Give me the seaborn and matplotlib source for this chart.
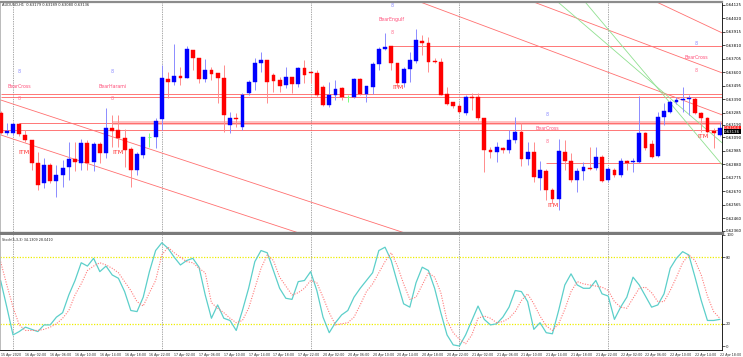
import numpy as np
import pandas as pd
import matplotlib
matplotlib.use("Agg")
import matplotlib.pyplot as plt
import seaborn as sns

# AUDUSD H1 candles, 15 Apr 22:00 -> 22 Apr 18:00 (prices x 1e5)
opens = [63281, 63125, 63125, 63196, 63110, 63071, 62891, 62735, 62875, 62750,
         62797, 62860, 62922, 62891, 63047, 62899, 63039, 62969, 63164, 63149,
         63086, 63000, 62836, 62953, 63094, 63094, 63235, 63547, 63524, 63570,
         63555, 63773, 63711, 63547, 63617, 63594, 63555, 63188, 63242, 63172,
         63438, 63524, 63672, 63695, 63578, 63539, 63500, 63563, 63508, 63633,
         63602, 63594, 63485, 63344, 63422, 63477, 63406, 63406, 63547, 63430,
         63485, 63664, 63781, 63805, 63672, 63516, 63625, 63688, 63844, 63828,
         63688, 63680, 63430, 63367, 63336, 63281, 63406, 63406, 63242, 62992,
         62977, 63008, 62992, 63071, 63133, 62922, 62977, 62774, 62828, 62680,
         62610, 62977, 62907, 62758, 62828, 62852, 62852, 62938, 62758, 62836,
         62797, 62907, 62899, 62899, 63125, 63039, 62946, 63250, 63289, 63367,
         63383, 63391, 63391, 63281, 63242, 63141, 63110]
highs = [63297, 63203, 63203, 63203, 63149, 63071, 62977, 62930, 62891, 62875,
         62914, 63055, 63055, 63078, 63071, 63055, 63055, 63321, 63266, 63266,
         63157, 63016, 62977, 63094, 63125, 63242, 63656, 63602, 63820, 63641,
         63805, 63773, 63711, 63703, 63641, 63594, 63656, 63289, 63281, 63438,
         63539, 63711, 63758, 63695, 63594, 63563, 63641, 63563, 63641, 63695,
         63602, 63617, 63500, 63524, 63539, 63485, 63422, 63555, 63555, 63492,
         63680, 63797, 63906, 63805, 63672, 63641, 63758, 63938, 63891, 63875,
         63711, 63711, 63485, 63367, 63360, 63422, 63438, 63438, 63242, 63016,
         63055, 63016, 63149, 63250, 63203, 63055, 63055, 62907, 62844, 62696,
         63078, 63071, 62969, 62852, 62899, 63016, 63016, 62953, 62860, 62852,
         62930, 62914, 62930, 63414, 63133, 63071, 63289, 63360, 63383, 63406,
         63485, 63422, 63406, 63289, 63250, 63164, 63211]
lows = [63117, 63110, 63110, 63102, 63055, 62836, 62680, 62696, 62735, 62625,
        62704, 62758, 62828, 62836, 62836, 62828, 62891, 62930, 63016, 63016,
        62860, 62704, 62797, 62930, 63016, 63008, 63149, 63399, 63500, 63500,
        63555, 63617, 63516, 63524, 63539, 63360, 63133, 63125, 63172, 63149,
        63422, 63461, 63602, 63360, 63445, 63445, 63477, 63438, 63485, 63516,
        63516, 63406, 63336, 63328, 63383, 63383, 63367, 63399, 63422, 63367,
        63430, 63617, 63773, 63617, 63485, 63485, 63524, 63672, 63734, 63602,
        63672, 63422, 63344, 63321, 63281, 63266, 63305, 63227, 62821, 62930,
        62899, 62969, 62969, 63047, 62868, 62875, 62743, 62680, 62602, 62579,
        62524, 62836, 62743, 62664, 62758, 62836, 62836, 62743, 62743, 62782,
        62782, 62836, 62821, 62891, 62992, 62930, 62938, 63188, 63281, 63352,
        63289, 63266, 63274, 63133, 63125, 63008, 63102]
closes = [63125, 63141, 63196, 63117, 63071, 62891, 62719, 62875, 62750, 62797,
          62852, 62922, 62899, 63047, 62891, 63039, 62969, 63164, 63141, 63086,
          62992, 62836, 62961, 63094, 63094, 63219, 63555, 63524, 63570, 63555,
          63781, 63711, 63547, 63617, 63586, 63555, 63266, 63242, 63235, 63422,
          63524, 63672, 63695, 63524, 63531, 63492, 63563, 63508, 63633, 63578,
          63594, 63422, 63344, 63422, 63469, 63406, 63406, 63547, 63430, 63492,
          63664, 63781, 63797, 63672, 63516, 63625, 63695, 63852, 63828, 63680,
          63680, 63422, 63352, 63336, 63289, 63406, 63399, 63242, 62992, 62977,
          63016, 62992, 63071, 63133, 62922, 62977, 62782, 62836, 62680, 62610,
          62985, 62907, 62758, 62828, 62860, 62844, 62938, 62750, 62844, 62797,
          62907, 62891, 62907, 63125, 63008, 62938, 63250, 63297, 63367, 63383,
          63391, 63399, 63281, 63242, 63133, 63125, 63164]

# Stochastic(5,3,3): main and signal
stoch_main = [59, 35, 10, 13, 17, 15, 13, 19, 19, 26, 30, 46, 59, 75, 72, 79, 67, 72, 64, 61,
              49, 32, 31, 44, 67, 86, 93, 88, 80, 73, 77, 79, 71, 46, 25, 37, 25, 23, 14, 32,
              52, 76, 86, 84, 68, 52, 43, 42, 58, 59, 67, 50, 26, 12, 21, 28, 32, 44, 52, 59,
              66, 86, 89, 77, 57, 38, 35, 57, 71, 68, 52, 30, 10, 1, 0, 10, 23, 36, 24, 19,
              20, 26, 35, 50, 49, 40, 15, 21, 12, 11, 32, 55, 65, 55, 52, 52, 59, 47, 45, 24,
              35, 44, 62, 55, 45, 35, 37, 47, 70, 79, 85, 82, 62, 41, 23, 23, 24]
stoch_signal = [76, 55, 35, 19, 14, 14, 14, 15, 17, 20, 25, 32, 46, 56, 68, 72, 75, 73, 70, 66,
                58, 50, 40, 36, 48, 59, 82, 89, 84, 80, 76, 75, 70, 66, 39, 34, 30, 25, 21, 23,
                34, 52, 70, 82, 77, 62, 54, 46, 48, 52, 59, 57, 44, 30, 19, 20, 21, 26, 37, 49,
                56, 66, 76, 84, 72, 56, 42, 44, 55, 66, 62, 48, 23, 12, 6, 2, 10, 25, 27, 25,
                21, 22, 25, 31, 41, 47, 38, 27, 18, 14, 20, 33, 49, 58, 56, 55, 54, 53, 50, 40,
                35, 34, 43, 52, 53, 48, 40, 40, 50, 62, 75, 82, 77, 64, 45, 31, 25]

time_labels = ["15 Apr 2020", "16 Apr 02:00", "16 Apr 06:00", "16 Apr 10:00", "16 Apr 14:00",
               "16 Apr 18:00", "16 Apr 22:00", "17 Apr 02:00", "17 Apr 06:00", "17 Apr 10:00",
               "17 Apr 14:00", "17 Apr 18:00", "17 Apr 22:00", "20 Apr 02:00", "20 Apr 06:00",
               "20 Apr 10:00", "20 Apr 14:00", "20 Apr 18:00", "20 Apr 22:00", "21 Apr 02:00",
               "21 Apr 06:00", "21 Apr 10:00", "21 Apr 14:00", "21 Apr 18:00", "21 Apr 22:00",
               "22 Apr 02:00", "22 Apr 06:00", "22 Apr 10:00", "22 Apr 14:00", "22 Apr 18:00"]
day_starts = [2, 26, 50, 74, 98]
price_ticks = [0.64125, 0.64020, 0.63915, 0.63810, 0.63705, 0.63600, 0.63495, 0.63390, 0.63285,
               0.63190, 0.63090, 0.62985, 0.62880, 0.62775, 0.62670, 0.62565, 0.62460, 0.62360]

# horizontal pattern levels (price, first bar)
levels = [(0.63430, 0), (0.63406, 0), (0.63201, 3), (0.63149, 0), (0.63805, 63), (0.62891, 88)]
# trend lines (bar0, price0, bar1, price1)
red_trends = [(0, 0.63383, 65.2, 0.62344), (0, 0.63110, 48.1, 0.62344),
              (66.8, 0.64164, 116.4, 0.63266), (85.1, 0.64164, 116.4, 0.63594),
              (105.1, 0.64164, 116.4, 0.63906)]
green_trends = [(89.5, 0.64164, 116.4, 0.63047), (94.0, 0.64164, 116.4, 0.62875)]

df = pd.DataFrame({"open": opens, "high": highs, "low": lows, "close": closes}) / 1e5
df["bar"] = np.arange(len(df))
df["k"] = stoch_main
df["d"] = stoch_signal

sns.set_style("white")
plt.rcParams['font.family'] = ['DejaVu Sans']

W, H = 743, 357
fig = plt.figure(figsize=(W / 100, H / 100), dpi=100)
ax = fig.add_axes([0, 1 - 233 / H, 722 / W, 231 / H])
ax2 = fig.add_axes([0, 1 - 350 / H, 722 / W, 115 / H])

xlim = (-0.1, 116.35)

# candles
up = df["close"] > df["open"]
doji = df["close"] == df["open"]
body_c = np.where(up, "#0000ff", "#ff0000")
wick_c = np.where(up, "#8c8cff", "#ff8c8c")
nd = ~doji
ax.vlines(df["bar"][nd], df["low"][nd], df["high"][nd], colors=wick_c[nd], lw=0.7, zorder=3)
ax.bar(df["bar"][nd], (df["close"] - df["open"])[nd], bottom=df["open"][nd], width=0.62,
       color=body_c[nd], edgecolor=body_c[nd], lw=0.3, zorder=4)
ax.vlines(df["bar"][doji], df["low"][doji], df["high"][doji], colors="#7cfc7c", lw=0.7, zorder=3)
ax.hlines(df["open"][doji], df["bar"][doji] - 0.3, df["bar"][doji] + 0.3, colors="#7cfc7c", lw=0.7, zorder=3)

# levels and trend lines
for p, b in levels:
    ax.hlines(p, b, xlim[1], colors="#ff6060", lw=0.6, zorder=2)
ax.axhspan(0.63191, 0.63222, xmin=(18 - xlim[0]) / (xlim[1] - xlim[0]), color="#ffc0c0", lw=0, zorder=1)
for b0, p0, b1, p1 in red_trends:
    ax.plot([b0, b1], [p0, p1], color="#ff7070", lw=0.6, zorder=2)
for b0, p0, b1, p1 in green_trends:
    ax.plot([b0, b1], [p0, p1], color="#90e090", lw=0.6, zorder=2)

# pattern labels
pats = [(3, 0.63492, "BearCross"), (18, 0.63492, "BearHarami"), (63.1, 0.64008, "BearEngulf"),
        (88.1, 0.63157, "BearCross"), (112.2, 0.63711, "BearCross")]
for b, p, t in pats:
    ax.text(b, p, t, color="#ff4f7a", fontsize=3.4, ha="center", va="center", zorder=6)
    ax.text(b, p + 0.00110, "8", color="#8a8aff", fontsize=3.4, ha="center", va="center", zorder=6)
    ax.text(b, p - 0.00100, "8", color="#ff6f8f", fontsize=3.4, ha="center", va="center", zorder=6)
for b, p in [(3.8, 0.62969), (19, 0.62969), (64.1, 0.63477), (89.1, 0.62555), (113.3, 0.63094)]:
    ax.text(b, p, "ITM", color="#ff3030", fontsize=4.6, ha="center", va="center", zorder=6)

ax.set_xlim(*xlim)
ax.set_ylim(0.62344, 0.64148)
ax.set_xticks([])
ax.yaxis.tick_right()
ax.set_yticks(price_ticks)
ax.set_yticklabels([f"{p:.5f}" for p in price_ticks])
ax.tick_params(axis="y", length=2, width=0.5, pad=1, labelsize=2.8, colors="black")
ax.text(1.003, 0.63164, "0.63164", transform=ax.get_yaxis_transform(), fontsize=2.8, color="white",
        va="center", ha="left", bbox=dict(boxstyle="square,pad=0.12", fc="#ff2020", ec="none"))
ax.text(1.003, 0.63136, "0.63136", transform=ax.get_yaxis_transform(), fontsize=2.8, color="white",
        va="center", ha="left", bbox=dict(boxstyle="square,pad=0.12", fc="black", ec="none"))
for s in ax.spines.values():
    s.set_linewidth(0.6)
    s.set_color("black")
ax.spines["top"].set_color("#8c8c8c")
ax.spines["top"].set_linewidth(1.6)
ax.spines["bottom"].set_color("#7a7a7a")
ax.spines["bottom"].set_linewidth(2.4)
ax.spines["left"].set_color("#b0b0b0")
fig.text(2 / W, 1 - 5 / H, "AUDUSD,H1  0.63179 0.63189 0.63080 0.63136", fontsize=2.6, va="center")

# stochastic panel
sns.lineplot(data=df, x="bar", y="k", ax=ax2, color="#5ccfca", lw=0.9)
sns.lineplot(data=df, x="bar", y="d", ax=ax2, color="#ff7a7a", lw=0.8, linestyle=(0, (1, 1.3)))
for lv in (20, 80):
    ax2.axhline(lv, color="#eeee00", lw=0.9, ls=(0, (1, 1.2)), zorder=0.5)
ax2.set_xlim(*xlim)
ax2.set_ylim(-3.6, 100)
ax2.set_xlabel("")
ax2.set_ylabel("")
ax2.yaxis.tick_right()
ax2.set_yticks([0, 20, 80, 100])
ax2.set_yticklabels(["0", "20", "80", "100"])
ax2.tick_params(axis="y", length=2, width=0.5, pad=1, labelsize=2.8)
ax2.set_xticks(np.arange(0, 117, 4))
ax2.set_xticklabels(time_labels, ha="left")
ax2.tick_params(axis="x", length=2, width=0.5, pad=0.5, labelsize=2.3)
for s in ax2.spines.values():
    s.set_linewidth(0.6)
    s.set_color("black")
ax2.spines["top"].set_visible(False)
ax2.spines["left"].set_color("#b0b0b0")
ax2.text(2 / 722, 0.97, "Stoch(5,3,3) 34.1309 28.0410", transform=ax2.transAxes, fontsize=2.4, va="top")

for a in (ax, ax2):
    for b in day_starts:
        a.axvline(b, color="#555555", lw=0.5, ls=(0, (1, 1.5)), zorder=1)

fig.savefig("out.png", dpi=100)
